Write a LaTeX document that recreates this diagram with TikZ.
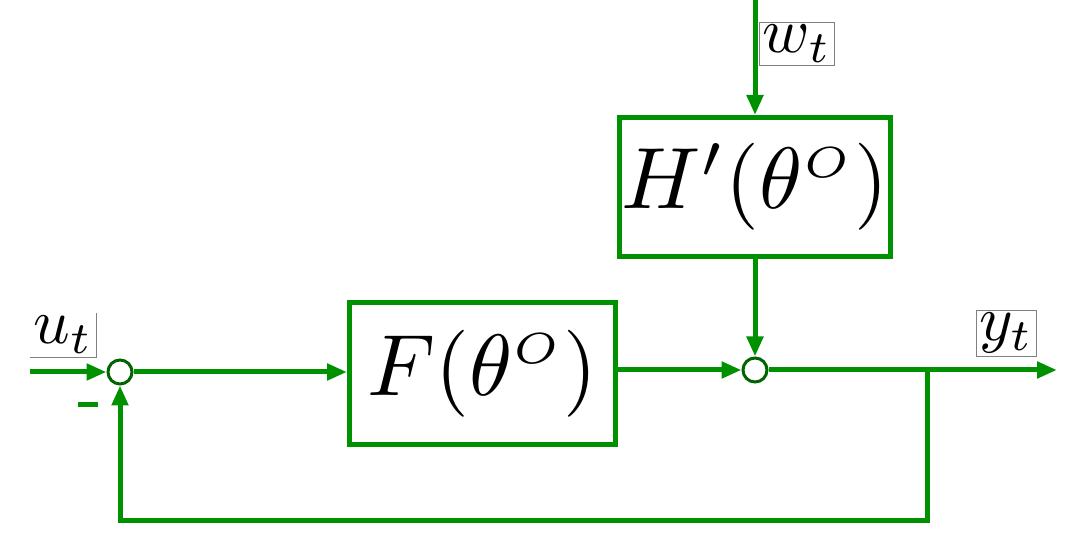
\documentclass[tikz,border=0pt]{standalone}
\usepackage{graphicx}
\usepackage{amsmath}
\usetikzlibrary{arrows.meta,positioning}
\definecolor{sig}{RGB}{0,145,0}
\definecolor{sumc}{RGB}{0,100,0}
\newcommand{\blocktext}[1]{\scalebox{4.35}{#1}}
\newcommand{\tagtext}[1]{\scalebox{3.2}{#1}}
\tikzset{
	block/.style={draw=sig, line width=2.5pt, inner sep=0pt},
	junction/.style={circle, draw=sumc, line width=1.5pt, minimum size=12pt, inner sep=0pt},
	wire/.style={sig, line width=2.5pt},
	signal/.style={wire, -{Triangle[length=10pt,width=8pt]}},
	sigtag/.style={inner sep=1.5pt},
	tagframe/.style={draw=gray, line width=0.4pt}
}

\begin{document}
\begin{tikzpicture}[x=0.5pt, y=-0.5pt]
	\useasboundingbox (0,0) rectangle (1075,560);
	\node[junction] (sum1) at (120,372) {};
	\node[junction] (sum2) at (755,370) {};
	\node[block, minimum width=133pt, minimum height=71pt] (F) at (482.5,373.5) {\blocktext{$F(\theta^{\scriptscriptstyle O})$}};
	\node[block, minimum width=135.5pt, minimum height=69.5pt] (H) at (755,187) {\blocktext{$H'(\theta^{\scriptscriptstyle O})$}};
	
	\coordinate (in) at (30,372);
	\coordinate (top) at (755,0);
	\coordinate (out) at (1057,370);
	\coordinate (branch) at (927,370);
	\coordinate (low) at (927,520);
	
	\node[sigtag] (ut) at (63,335) {\tagtext{$u_t$}};
	\node[sigtag, tagframe] (wt) at (797,44) {\tagtext{$w_t$}};
	\node[sigtag, tagframe] (yt) at (1006,333) {\tagtext{$y_t$}};
	\draw[tagframe] (ut.north east) |- (ut.south west);
	\node[inner sep=0pt, text=sig] (minus) at (88,405) {\rule{10pt}{2.5pt}};
	
	\draw[signal] (in) -- (sum1);
	\draw[signal] (sum1) -- (sum1 -| F.west);
	\draw[signal] (F.east |- sum2) -- (sum2);
	\draw[signal] (top) -- (H);
	\draw[signal] (H) -- (sum2);
	\draw[signal] (sum2) -- (out);
	\draw[signal] (branch) -- (low) -| (sum1);
\end{tikzpicture}
\end{document}
